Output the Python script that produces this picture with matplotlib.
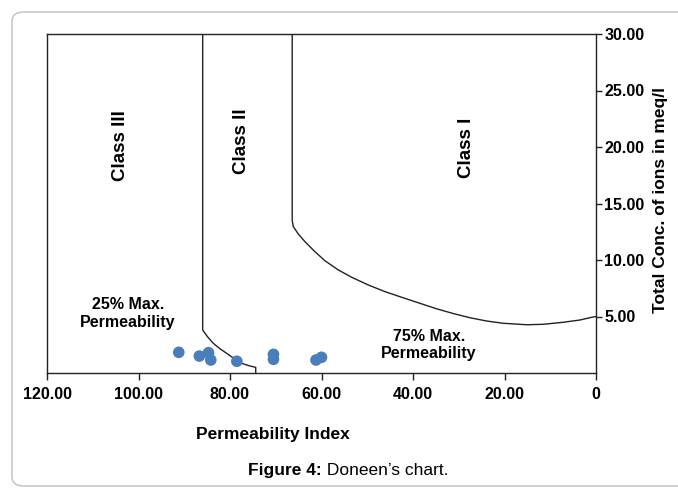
import matplotlib
matplotlib.use("Agg")
import matplotlib.pyplot as plt
from matplotlib.patches import FancyBboxPatch

plt.rcParams['font.family'] = ['Liberation Sans', 'DejaVu Sans']

# ---- data ----
pi_values = [91.2, 86.7, 84.7, 84.2, 78.5, 70.5, 70.5, 61.2, 60.0]
conc_values = [1.83, 1.50, 1.80, 1.15, 1.04, 1.65, 1.21, 1.15, 1.39]

# boundary between Class III and Class II (25% max. permeability)
b2_pi = [85.97, 85.97, 84.9, 83.65, 82.2, 80.72, 79.2, 77.81, 76.6, 75.63, 74.38, 74.38]
b2_conc = [30.0, 3.80, 3.20, 2.63, 2.15, 1.74, 1.30, 0.91, 0.74, 0.62, 0.50, 0.0]

# boundary between Class II and Class I (75% max. permeability)
b1_pi = [66.40, 66.40, 66.16, 65.07, 63.61, 61.42, 59.23, 56.33, 53.40, 49.77,
         46.12, 42.47, 37.38, 34.82, 31.19, 27.54, 23.89, 20.26, 15.15, 11.52,
         7.15, 3.50, 0.94, 0.0]
b1_conc = [30.0, 13.50, 12.95, 12.30, 11.62, 10.73, 9.93, 9.12, 8.47, 7.79,
           7.20, 6.70, 6.02, 5.68, 5.26, 4.89, 4.60, 4.40, 4.27, 4.31,
           4.49, 4.69, 4.93, 5.0]

x_ticks = [120, 100, 80, 60, 40, 20, 0]
x_tick_labels = ['120.00', '100.00', '80.00', '60.00', '40.00', '20.00', '0']
y_ticks = [5, 10, 15, 20, 25, 30]
y_tick_labels = ['5.00', '10.00', '15.00', '20.00', '25.00', '30.00']

W, H = 678, 488
fig = plt.figure(figsize=(W / 100, H / 100), dpi=100)

# rounded light grey frame
frame = FancyBboxPatch((12 / W, 2 / H), 700 / W, 474 / H,
                       boxstyle="round,pad=0,rounding_size=0.018",
                       transform=fig.transFigure, facecolor='none',
                       edgecolor='#c8c8c8', linewidth=1.2, zorder=-5)
fig.patches.append(frame)

ax = fig.add_axes([47 / W, (H - 373) / H, (596 - 47) / W, (373 - 34) / H])
ax.set_facecolor('none')
ax.set_zorder(2)
ax.set_xlim(120, 0)
ax.set_ylim(0, 30)

for s in ax.spines.values():
    s.set_color('#222222')
    s.set_linewidth(1.0)

ax.yaxis.tick_right()
ax.yaxis.set_label_position('right')
ax.set_xticks(x_ticks)
ax.set_xticklabels(x_tick_labels)
ax.set_yticks(y_ticks)
ax.set_yticklabels(y_tick_labels)
ax.tick_params(axis='x', direction='out', length=5, width=1, pad=5,
               labelsize=11.5, colors='#222222', labelcolor='black')
ax.tick_params(axis='y', direction='out', length=4, width=1, pad=2,
               labelsize=11.5, colors='#222222', labelcolor='black')
for lab in ax.get_xticklabels() + ax.get_yticklabels():
    lab.set_fontweight('bold')

ax.plot(b2_pi, b2_conc, color='#222222', linewidth=1.0)
ax.plot(b1_pi, b1_conc, color='#222222', linewidth=1.0)

ax.scatter(pi_values, conc_values, s=70, color='#4a7ebb', edgecolors='none',
           zorder=3, clip_on=False)

ax.text(104.0, 20.1, 'Class III', rotation=90, ha='center', va='center',
        fontsize=13.5, fontweight='bold')
ax.text(77.4, 20.5, 'Class II', rotation=90, ha='center', va='center',
        fontsize=13.5, fontweight='bold')
ax.text(28.4, 19.9, 'Class I', rotation=90, ha='center', va='center',
        fontsize=13.5, fontweight='bold')

ax.text(102.3, 5.3, '25% Max.\nPermeability', ha='center', va='center',
        fontsize=11.5, fontweight='bold', linespacing=1.25)
ax.text(36.5, 2.48, '75% Max.\nPermeability', ha='center', va='center',
        fontsize=11.5, fontweight='bold', linespacing=1.2)

fig.text(661 / W, (H - 200) / H, 'Total Conc. of ions in meq/l', rotation=90,
         ha='center', va='center', fontsize=12.5, fontweight='bold')
fig.text(273 / W, (H - 435) / H, 'Permeability Index', ha='center',
         va='center', fontsize=12.5, fontweight='bold')

# caption with bold prefix, placed on a common baseline
renderer = fig.canvas.get_renderer()
base_y = (H - 475) / H
c1 = fig.text(0, base_y, 'Figure 4:', fontsize=12.5, fontweight='bold',
              ha='left', va='baseline')
c2 = fig.text(0, base_y, ' Doneen\u2019s chart.', fontsize=12.5,
              ha='left', va='baseline')
w1 = c1.get_window_extent(renderer).width
w2 = c2.get_window_extent(renderer).width
x0 = 348 - (w1 + w2) / 2
c1.set_x(x0 / W)
c2.set_x((x0 + w1) / W)

fig.savefig('out.png', dpi=100)
